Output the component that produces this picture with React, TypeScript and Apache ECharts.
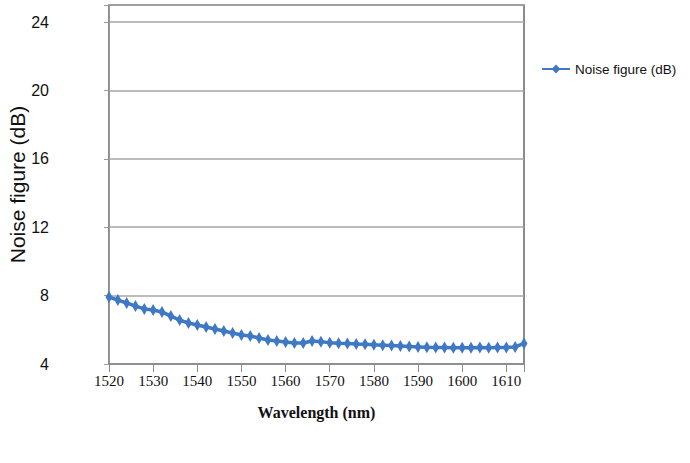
import React, { useEffect, useRef } from "react";
import * as echarts from "echarts";

const wavelengths: number[] = [
  1520, 1522, 1524, 1526, 1528, 1530, 1532, 1534, 1536, 1538,
  1540, 1542, 1544, 1546, 1548, 1550, 1552, 1554, 1556, 1558,
  1560, 1562, 1564, 1566, 1568, 1570, 1572, 1574, 1576, 1578,
  1580, 1582, 1584, 1586, 1588, 1590, 1592, 1594, 1596, 1598,
  1600, 1602, 1604, 1606, 1608, 1610, 1612, 1614,
];

const noiseFigure: number[] = [
  7.92, 7.74, 7.57, 7.39, 7.22, 7.16, 7.04, 6.81, 6.57, 6.4,
  6.28, 6.16, 6.05, 5.93, 5.81, 5.7, 5.64, 5.52, 5.4, 5.35,
  5.29, 5.23, 5.23, 5.35, 5.3, 5.25, 5.22, 5.2, 5.17, 5.15,
  5.12, 5.1, 5.08, 5.05, 5.02, 5.0, 4.98, 4.97, 4.96, 4.95,
  4.95, 4.95, 4.96, 4.95, 4.96, 4.97, 5.0, 5.2,
];

const seriesName = "Noise figure (dB)";
const xTitle = "Wavelength (nm)";
const yTitle = "Noise figure (dB)";

export default function App() {
  const ref = useRef<HTMLDivElement>(null);

  useEffect(() => {
    if (!ref.current) return;
    const chart = echarts.init(ref.current, undefined, { renderer: "svg" });
    chart.setOption({
      animation: false,
      backgroundColor: "#ffffff",
      grid: {
        left: 109,
        right: 166,
        top: 5,
        bottom: 99,
        containLabel: false,
        outerBoundsMode: "none",
        show: true,
        borderColor: "#666666",
        borderWidth: 1.5,
        backgroundColor: "transparent",
      },
      legend: {
        show: true,
        data: [seriesName],
        orient: "vertical",
        left: 536,
        top: 57,
        itemWidth: 28,
        itemHeight: 11,
        itemGap: 6,
        textStyle: {
          fontFamily: "'Liberation Sans', Arial, sans-serif",
          fontSize: 13.5,
          color: "#111111",
        },
      },
      xAxis: {
        type: "value",
        min: 1520,
        max: 1614,
        interval: 10,
        name: xTitle,
        nameLocation: "middle",
        nameGap: 40,
        nameMoveOverlap: false,
        nameTextStyle: {
          fontFamily: "'Liberation Serif', 'Times New Roman', serif",
          fontWeight: "bold",
          fontSize: 16,
          color: "#111111",
        },
        axisLine: { show: true, lineStyle: { color: "#8a8a8a", width: 1.5 } },
        axisTick: { show: true, length: 8, lineStyle: { color: "#8a8a8a", width: 1 } },
        axisLabel: {
          margin: 9,
          fontFamily: "'Liberation Serif', 'Times New Roman', serif",
          fontSize: 15,
          color: "#111111",
          formatter: (v: number) => (v % 10 === 0 && v <= 1610 ? String(v) : ""),
        },
        splitLine: { show: false },
      },
      yAxis: {
        type: "value",
        min: 4,
        max: 25,
        interval: 4,
        name: yTitle,
        nameLocation: "middle",
        nameGap: 81,
        nameMoveOverlap: false,
        nameTextStyle: {
          fontFamily: "'Liberation Sans', Arial, sans-serif",
          fontSize: 21,
          color: "#111111",
        },
        axisLine: { show: true, lineStyle: { color: "#9a9a9a", width: 1 } },
        axisTick: { show: true, length: 5, lineStyle: { color: "#9a9a9a", width: 1 } },
        axisLabel: {
          margin: 60,
          fontFamily: "'Liberation Sans', Arial, sans-serif",
          fontSize: 16,
          color: "#111111",
          formatter: (v: number) => (v % 4 === 0 ? String(v) : ""),
        },
        splitLine: { show: true, lineStyle: { color: "#a6a6a6", width: 1.5 } },
      },
      series: [
        {
          name: seriesName,
          type: "line",
          data: wavelengths.map((w, i) => [w, noiseFigure[i]]),
          symbol: "diamond",
          symbolSize: [7, 12],
          showSymbol: true,
          itemStyle: { color: "#3f78c4" },
          lineStyle: { color: "#3f78c4", width: 3.5 },
          clip: false,
        },
      ],
    });
    return () => chart.dispose();
  }, []);

  return (
    <div
      ref={ref}
      style={{ position: "fixed", left: 0, top: 0, width: 690, height: 463, background: "#fff" }}
    />
  );
}
